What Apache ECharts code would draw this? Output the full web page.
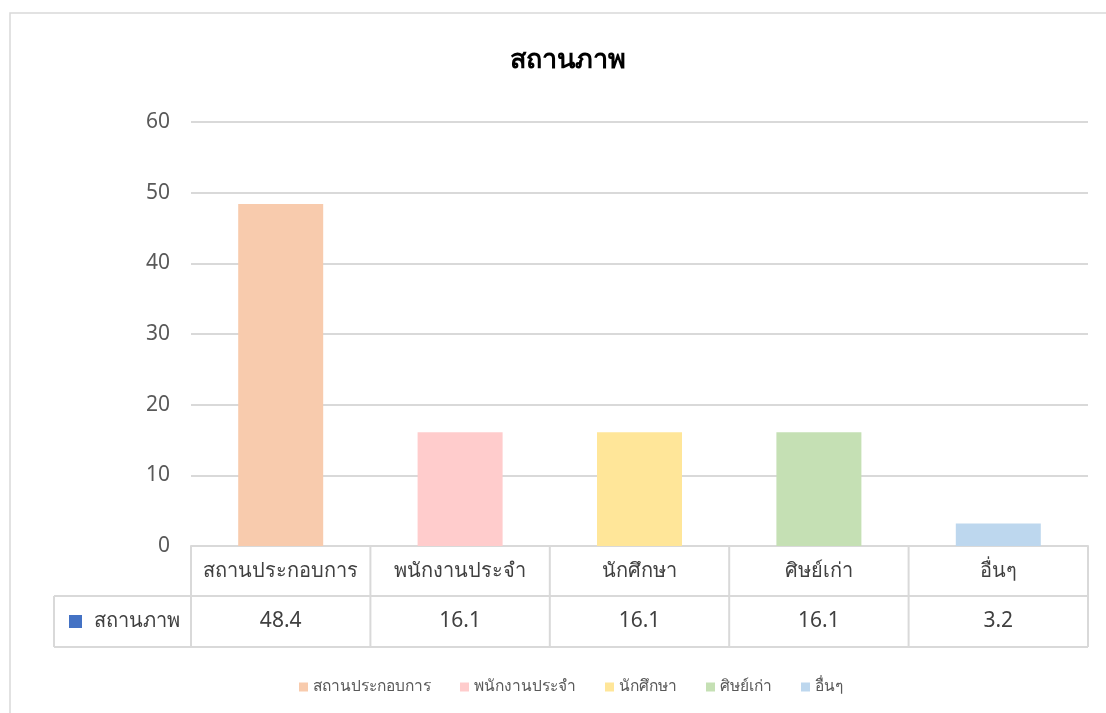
<!DOCTYPE html>
<html><head><meta charset="utf-8">
<script src="https://cdn.jsdelivr.net/npm/echarts@6/dist/echarts.min.js"></script>
<style>html,body{margin:0;padding:0;background:#fff}#c{width:1106px;height:713px}</style>
</head><body><div id="c"></div>
<script>
const titleText = 'สถานภาพ';
const seriesName = 'สถานภาพ';
const categories = ['สถานประกอบการ', 'พนักงานประจำ', 'นักศึกษา', 'ศิษย์เก่า', 'อื่นๆ'];
const values = [48.4, 16.1, 16.1, 16.1, 3.2];
const colors = ['#F8CBAD', '#FFCCCC', '#FFE699', '#C5E0B4', '#BDD7EE'];
const yTicks = { min: 0, max: 60, interval: 10 };

const FONT = '"Noto Sans", sans-serif';
const chart = echarts.init(document.getElementById('c'));
const series = categories.map((c, i) => ({
  name: c, type: 'bar', stack: 'all', barWidth: 85,
  itemStyle: { color: colors[i] },
  data: categories.map((_, j) => j === i ? values[i] : '-')
}));
chart.setOption({
  animation: false,
  textStyle: { fontFamily: FONT },
  title: { text: titleText, left: 563, top: 42, textAlign: 'center',
    textStyle: { fontSize: 27, fontWeight: 'bold', color: '#000', fontFamily: FONT } },
  grid: { left: 191, right: 18, top: 122, bottom: 167 },
  legend: { data: categories, left: 294, top: 674, icon: 'rect', itemWidth: 9, itemHeight: 9, itemGap: 29,
    textStyle: { color: '#595959', fontSize: 15.5, fontFamily: FONT } },
  xAxis: [
    { type: 'category', data: categories, position: 'bottom',
      axisLine: { lineStyle: { color: '#d9d9d9', width: 2 } }, axisTick: { show: false },
      axisLabel: { color: '#404040', fontSize: 20, margin: 25, verticalAlign: 'middle', interval: 0, fontFamily: FONT } },
    { type: 'category', data: values.map(v => v.toFixed(1)), position: 'bottom', offset: 50,
      axisLine: { show: false }, axisTick: { show: false },
      axisLabel: { color: '#404040', fontSize: 21, margin: 25, verticalAlign: 'middle', interval: 0, fontFamily: FONT } }
  ],
  yAxis: { type: 'value', min: yTicks.min, max: yTicks.max, interval: yTicks.interval,
    axisLine: { show: false }, axisTick: { show: false },
    axisLabel: { color: '#595959', fontSize: 21, margin: 21, fontFamily: FONT },
    splitLine: { lineStyle: { color: '#d9d9d9', width: 2 } } },
  series: series
});

function drawTable() {
  const centers = categories.map(c => chart.convertToPixel({ xAxisIndex: 0 }, c));
  const band = centers[1] - centers[0];
  const y0 = chart.convertToPixel({ yAxisIndex: 0 }, 0);
  const rowH = 50;
  const left = centers[0] - band / 2;
  const right = centers[centers.length - 1] + band / 2;
  const legLeft = 54;
  const ls = { stroke: '#d9d9d9', lineWidth: 2 };
  const els = [];
  els.push({ type: 'rect', shape: { x: 10, y: 13, width: 1120, height: 720 }, style: { fill: null, stroke: '#d9d9d9', lineWidth: 1.5 }, silent: true });
  els.push({ type: 'line', shape: { x1: legLeft, y1: y0 + rowH, x2: right, y2: y0 + rowH }, style: ls });
  els.push({ type: 'line', shape: { x1: legLeft, y1: y0 + 2 * rowH + 1, x2: right, y2: y0 + 2 * rowH + 1 }, style: ls });
  for (let i = 0; i <= categories.length; i++) {
    const x = left + i * band;
    els.push({ type: 'line', shape: { x1: x, y1: y0, x2: x, y2: y0 + 2 * rowH + 1 }, style: ls });
  }
  els.push({ type: 'line', shape: { x1: legLeft, y1: y0 + rowH, x2: legLeft, y2: y0 + 2 * rowH + 1 }, style: ls });
  els.push({ type: 'rect', shape: { x: 69, y: y0 + rowH + 19, width: 13, height: 13 }, style: { fill: '#4472C4' } });
  els.push({ type: 'text', x: 94, y: y0 + rowH + 25, style: { text: seriesName, fill: '#404040', font: '20px ' + FONT, textVerticalAlign: 'middle' } });
  chart.setOption({ graphic: els });
}
drawTable();
</script></body></html>
